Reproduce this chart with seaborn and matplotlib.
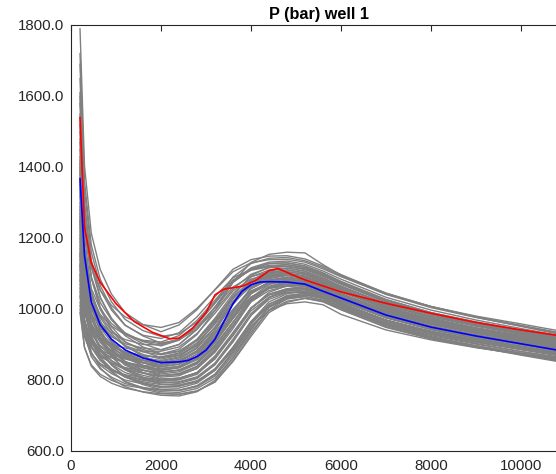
import numpy as np
import pandas as pd
import matplotlib
matplotlib.use("Agg")
import matplotlib.pyplot as plt
import seaborn as sns
from matplotlib.ticker import FormatStrFormatter

# ---------------- data ----------------
time_grid = [200, 300, 450, 650, 900, 1200, 1600, 2000, 2400, 2800, 3200, 3600,
             4000, 4400, 4800, 5200, 5600, 6000, 7000, 8000, 9000, 10000, 11000]

ens01 = [1790, 1403, 1214, 1111, 1042, 990, 956, 936, 955, 998, 1055, 1112, 1139, 1149, 1150, 1141, 1121, 1097, 1044, 1007, 978, 954, 930]
ens02 = [1690, 1335, 1161, 1066, 1003, 955, 924, 904, 913, 944, 996, 1056, 1098, 1116, 1120, 1112, 1093, 1071, 1022, 987, 960, 938, 915]
ens03 = [1600, 1276, 1118, 1031, 974, 930, 902, 885, 900, 943, 1005, 1075, 1113, 1128, 1130, 1121, 1101, 1076, 1022, 984, 954, 930, 905]
ens04 = [1550, 1240, 1088, 1005, 950, 908, 881, 863, 870, 896, 949, 1014, 1069, 1093, 1100, 1092, 1074, 1052, 1004, 970, 944, 922, 900]
ens05 = [1480, 1237, 1118, 1053, 1010, 978, 956, 948, 962, 1002, 1054, 1105, 1130, 1139, 1140, 1132, 1113, 1091, 1042, 1007, 980, 958, 935]
ens06 = [1450, 1171, 1035, 960, 911, 873, 849, 833, 838, 860, 911, 978, 1045, 1077, 1089, 1082, 1064, 1042, 994, 960, 934, 912, 890]
ens07 = [1420, 1146, 1011, 938, 889, 853, 828, 813, 815, 832, 878, 945, 1021, 1061, 1077, 1074, 1054, 1032, 984, 950, 924, 902, 880]
ens08 = [1400, 1162, 1045, 981, 939, 907, 886, 873, 887, 928, 996, 1076, 1131, 1154, 1160, 1158, 1125, 1095, 1045, 1007, 977, 951, 925]
ens09 = [1380, 1115, 985, 914, 867, 831, 808, 793, 794, 806, 844, 907, 982, 1033, 1055, 1058, 1045, 1014, 969, 936, 912, 891, 870]
ens10 = [1350, 1121, 1008, 947, 906, 876, 855, 843, 851, 881, 940, 1013, 1075, 1102, 1110, 1101, 1082, 1058, 1007, 970, 942, 919, 895]
ens11 = [1330, 1078, 955, 888, 843, 809, 787, 773, 770, 781, 811, 870, 943, 1005, 1032, 1040, 1030, 1005, 960, 928, 903, 880, 860]
ens12 = [1300, 1120, 1032, 984, 952, 928, 912, 907, 925, 968, 1025, 1082, 1109, 1119, 1120, 1112, 1093, 1070, 1019, 983, 956, 933, 910]
ens13 = [1280, 1073, 972, 917, 880, 852, 834, 822, 828, 849, 898, 963, 1026, 1058, 1069, 1063, 1046, 1026, 981, 950, 926, 905, 885]
ens14 = [1260, 1035, 925, 865, 825, 795, 775, 763, 760, 769, 794, 855, 929, 998, 1029, 1039, 1035, 1010, 958, 922, 895, 872, 850]
ens15 = [1240, 1065, 979, 932, 901, 877, 862, 855, 865, 900, 959, 1028, 1075, 1095, 1100, 1092, 1074, 1052, 1004, 970, 944, 922, 900]
ens16 = [1220, 1031, 939, 888, 855, 829, 813, 802, 805, 820, 863, 925, 995, 1033, 1048, 1047, 1035, 1015, 968, 937, 913, 894, 875]
ens17 = [1200, 1056, 986, 947, 922, 902, 890, 885, 900, 943, 1005, 1075, 1113, 1128, 1130, 1121, 1102, 1078, 1027, 990, 962, 939, 915]
ens18 = [1180, 1000, 912, 864, 832, 808, 792, 782, 784, 794, 828, 884, 950, 996, 1015, 1020, 1012, 985, 941, 913, 891, 873, 855]
ens19 = [1160, 1016, 946, 907, 882, 862, 850, 842, 849, 872, 923, 988, 1048, 1075, 1085, 1077, 1060, 1038, 991, 958, 933, 911, 890]
ens20 = [1150, 997, 922, 881, 854, 834, 820, 812, 817, 837, 884, 952, 1022, 1059, 1073, 1067, 1050, 1028, 981, 948, 923, 901, 880]
ens21 = [1130, 961, 879, 834, 804, 781, 766, 757, 755, 767, 799, 862, 941, 1007, 1036, 1044, 1030, 1005, 955, 920, 893, 870, 848]
ens22 = [1120, 1003, 946, 915, 894, 878, 868, 865, 876, 912, 970, 1035, 1075, 1091, 1095, 1087, 1070, 1049, 1004, 972, 947, 926, 905]
ens23 = [1100, 961, 892, 855, 830, 812, 799, 792, 795, 809, 848, 915, 987, 1032, 1051, 1054, 1040, 1018, 969, 936, 911, 890, 870]
ens24 = [1080, 968, 913, 883, 863, 848, 838, 831, 839, 865, 917, 980, 1034, 1058, 1065, 1058, 1042, 1022, 979, 948, 925, 905, 885]
ens25 = [1060, 930, 866, 831, 808, 790, 779, 772, 771, 784, 817, 880, 956, 1013, 1038, 1045, 1035, 1010, 962, 930, 906, 885, 865]
ens26 = [1040, 941, 893, 866, 849, 835, 827, 821, 828, 851, 904, 974, 1043, 1077, 1089, 1082, 1065, 1043, 996, 963, 938, 916, 895]
ens27 = [1020, 921, 873, 846, 829, 815, 807, 801, 805, 821, 865, 930, 1003, 1042, 1057, 1056, 1043, 1023, 975, 942, 918, 896, 875]
ens28 = [1000, 892, 839, 810, 791, 777, 767, 761, 760, 769, 795, 852, 923, 990, 1019, 1030, 1022, 998, 948, 916, 892, 872, 852]
ens29 = [1500, 1226, 1091, 1018, 969, 933, 908, 896, 912, 950, 1005, 1062, 1092, 1103, 1105, 1098, 1081, 1061, 1016, 985, 961, 940, 920]
ens30 = [1250, 1068, 979, 930, 898, 873, 857, 847, 854, 883, 934, 999, 1051, 1073, 1080, 1072, 1056, 1035, 990, 958, 935, 913, 892]
ens31 = [1720, 1358, 1181, 1084, 1020, 971, 939, 923, 930, 963, 1018, 1079, 1116, 1132, 1135, 1126, 1107, 1084, 1033, 997, 969, 945, 922]
ens32 = [1650, 1299, 1127, 1034, 971, 925, 893, 874, 882, 911, 966, 1032, 1082, 1104, 1110, 1102, 1084, 1062, 1013, 979, 952, 930, 908]
ens33 = [1580, 1249, 1088, 999, 941, 896, 867, 849, 854, 878, 930, 996, 1058, 1085, 1095, 1087, 1069, 1048, 1000, 967, 941, 920, 898]
ens34 = [1520, 1205, 1051, 967, 911, 869, 841, 824, 827, 847, 894, 962, 1032, 1069, 1083, 1077, 1059, 1038, 990, 957, 931, 910, 888]
ens35 = [1470, 1169, 1021, 941, 887, 847, 820, 803, 805, 819, 859, 927, 1001, 1047, 1066, 1068, 1055, 1030, 982, 948, 922, 900, 878]
ens36 = [1430, 1171, 1045, 976, 930, 895, 872, 859, 869, 901, 963, 1037, 1094, 1118, 1125, 1116, 1097, 1074, 1023, 987, 959, 935, 912]
ens37 = [1410, 1129, 991, 916, 866, 829, 804, 788, 786, 798, 830, 891, 964, 1020, 1043, 1050, 1040, 1016, 967, 934, 909, 887, 866]
ens38 = [1390, 1167, 1058, 999, 959, 930, 910, 902, 915, 958, 1020, 1090, 1128, 1143, 1145, 1136, 1117, 1093, 1041, 1004, 976, 952, 928]
ens39 = [1360, 1119, 1002, 937, 895, 862, 841, 828, 835, 861, 919, 991, 1059, 1089, 1100, 1092, 1073, 1051, 1002, 967, 941, 918, 896]
ens40 = [1340, 1099, 982, 917, 875, 842, 821, 808, 812, 833, 882, 952, 1025, 1064, 1078, 1072, 1055, 1033, 986, 953, 927, 906, 884]
ens41 = [1320, 1115, 1015, 961, 924, 897, 879, 871, 880, 915, 974, 1043, 1090, 1110, 1115, 1107, 1088, 1065, 1015, 979, 952, 929, 906]
ens42 = [1290, 1058, 945, 883, 842, 811, 790, 778, 777, 791, 827, 888, 960, 1009, 1030, 1035, 1024, 1002, 954, 921, 897, 876, 858]
ens43 = [1270, 1074, 979, 926, 892, 865, 848, 838, 845, 873, 929, 998, 1057, 1082, 1090, 1082, 1064, 1043, 995, 962, 936, 915, 893]
ens44 = [1250, 1054, 959, 906, 872, 845, 828, 817, 823, 845, 896, 963, 1030, 1062, 1074, 1067, 1050, 1029, 982, 950, 924, 903, 882]
ens45 = [1230, 1077, 1002, 961, 934, 914, 900, 899, 914, 956, 1016, 1078, 1111, 1123, 1125, 1117, 1098, 1075, 1026, 990, 964, 941, 918]
ens46 = [1210, 1010, 912, 858, 823, 796, 778, 767, 765, 776, 805, 863, 935, 996, 1022, 1030, 1020, 998, 950, 917, 893, 873, 855]
ens47 = [1190, 1035, 959, 917, 890, 869, 855, 849, 858, 889, 949, 1021, 1075, 1099, 1105, 1097, 1078, 1056, 1007, 972, 945, 923, 900]
ens48 = [1170, 1001, 919, 874, 844, 821, 806, 797, 800, 816, 861, 928, 1002, 1041, 1057, 1058, 1045, 1023, 975, 942, 917, 894, 872]
ens49 = [1155, 1007, 934, 894, 868, 848, 835, 827, 834, 857, 908, 973, 1033, 1060, 1070, 1063, 1046, 1026, 982, 951, 927, 907, 887]
ens50 = [1140, 1014, 952, 919, 896, 880, 868, 864, 874, 905, 958, 1020, 1063, 1081, 1085, 1078, 1061, 1041, 997, 966, 942, 922, 902]
ens51 = [1125, 972, 897, 856, 829, 809, 795, 787, 790, 804, 843, 910, 982, 1027, 1046, 1049, 1036, 1013, 965, 932, 908, 887, 868]
ens52 = [1110, 989, 929, 897, 875, 859, 848, 842, 851, 881, 942, 1016, 1079, 1107, 1115, 1106, 1087, 1063, 1012, 975, 947, 924, 900]
ens53 = [1095, 967, 904, 870, 847, 830, 819, 812, 818, 839, 889, 955, 1020, 1052, 1064, 1058, 1041, 1021, 976, 945, 921, 900, 880]
ens54 = [1085, 991, 944, 919, 902, 890, 881, 881, 893, 931, 988, 1051, 1084, 1098, 1100, 1092, 1076, 1055, 1010, 978, 953, 933, 912]
ens55 = [1070, 940, 876, 841, 818, 800, 789, 781, 782, 796, 832, 893, 965, 1014, 1035, 1040, 1029, 1006, 958, 925, 901, 880, 862]
ens56 = [1050, 953, 906, 880, 863, 850, 841, 837, 844, 867, 918, 983, 1043, 1070, 1080, 1072, 1055, 1034, 989, 957, 932, 911, 890]
ens57 = [1035, 927, 874, 845, 826, 812, 802, 797, 802, 821, 868, 934, 1003, 1039, 1053, 1050, 1034, 1012, 968, 937, 914, 894, 874]
ens58 = [1010, 938, 903, 884, 871, 861, 855, 852, 862, 892, 948, 1015, 1067, 1089, 1095, 1087, 1070, 1049, 1003, 970, 945, 924, 903]
ens59 = [990, 891, 843, 816, 799, 785, 777, 772, 771, 783, 815, 876, 949, 1005, 1028, 1035, 1025, 1002, 953, 920, 896, 875, 858]
ens60 = [1610, 1293, 1138, 1053, 997, 954, 926, 917, 933, 978, 1035, 1088, 1111, 1120, 1120, 1112, 1093, 1071, 1022, 987, 960, 938, 915]

ensemble = [ens01, ens02, ens03, ens04, ens05, ens06, ens07, ens08, ens09, ens10,
            ens11, ens12, ens13, ens14, ens15, ens16, ens17, ens18, ens19, ens20,
            ens21, ens22, ens23, ens24, ens25, ens26, ens27, ens28, ens29, ens30,
            ens31, ens32, ens33, ens34, ens35, ens36, ens37, ens38, ens39, ens40,
            ens41, ens42, ens43, ens44, ens45, ens46, ens47, ens48, ens49, ens50,
            ens51, ens52, ens53, ens54, ens55, ens56, ens57, ens58, ens59, ens60]

red_time = [200, 300, 450, 650, 1000, 1400, 1800, 2200, 2400, 2700, 3000, 3200, 3400,
            3800, 4100, 4400, 4600, 5000, 5200, 6000, 7000, 8000, 9000, 10000, 11000]
red_p = [1540, 1230, 1130, 1075, 1015, 965, 935, 916, 918, 945, 990, 1040, 1056,
         1064, 1080, 1108, 1114, 1092, 1082, 1048, 1016, 988, 962, 941, 922]

blue_time = [200, 300, 450, 650, 900, 1200, 1600, 2000, 2400, 2600, 2800, 3000,
             3200, 3400, 3600, 3800, 4000, 4200, 4400, 4800, 5200, 5600, 6000,
             7000, 8000, 9000, 10000, 11000]
blue_p = [1368, 1150, 1020, 955, 915, 885, 862, 849, 851, 855, 866, 884,
          915, 965, 1015, 1050, 1068, 1076, 1077, 1076, 1070, 1050, 1031,
          983, 949, 924, 902, 880]

title_text = "P (bar) well 1"
x_ticks = [0, 2000, 4000, 6000, 8000, 10000]
y_ticks = [600, 800, 1000, 1200, 1400, 1600, 1800]

# ---------------- build tables ----------------
rows = []
for k, series in enumerate(ensemble):
    for t, p in zip(time_grid, series):
        rows.append({"run": k, "time": t, "p": p})
ens_df = pd.DataFrame(rows)
red_df = pd.DataFrame({"time": red_time, "p": red_p})
blue_df = pd.DataFrame({"time": blue_time, "p": blue_p})

# ---------------- plot ----------------
sns.set_style("white")
plt.rcParams["font.family"] = ["Liberation Sans", "DejaVu Sans"]

fig = plt.figure(figsize=(5.56, 4.74), dpi=100)
ax = fig.add_axes([71 / 556, 23 / 474, 495 / 556, 426 / 474])

sns.lineplot(data=ens_df, x="time", y="p", units="run", estimator=None,
             color="#808080", linewidth=1.0, legend=False, ax=ax)
sns.lineplot(data=red_df, x="time", y="p", color="#ff0000", linewidth=1.2,
             estimator=None, legend=False, ax=ax)
sns.lineplot(data=blue_df, x="time", y="p", color="#0000ff", linewidth=1.2,
             estimator=None, legend=False, ax=ax)

ax.set_xlim(0, 11000)
ax.set_ylim(600, 1800)
ax.set_xticks(x_ticks)
ax.set_yticks(y_ticks)
ax.yaxis.set_major_formatter(FormatStrFormatter("%.1f"))
ax.set_xlabel("")
ax.set_ylabel("")
ax.set_title(title_text, fontsize=11.7, fontweight="bold", pad=4, color="black")

dark = "#262626"
for side in ["left", "bottom", "top", "right"]:
    ax.spines[side].set_visible(True)
    ax.spines[side].set_color(dark)
    ax.spines[side].set_linewidth(0.8)
ax.tick_params(axis="both", which="major", direction="in", length=4, width=0.8,
               colors=dark, labelsize=10.8, top=True, right=True, pad=5)
ax.tick_params(axis="x", pad=6)

fig.savefig("out.png", dpi=100)
